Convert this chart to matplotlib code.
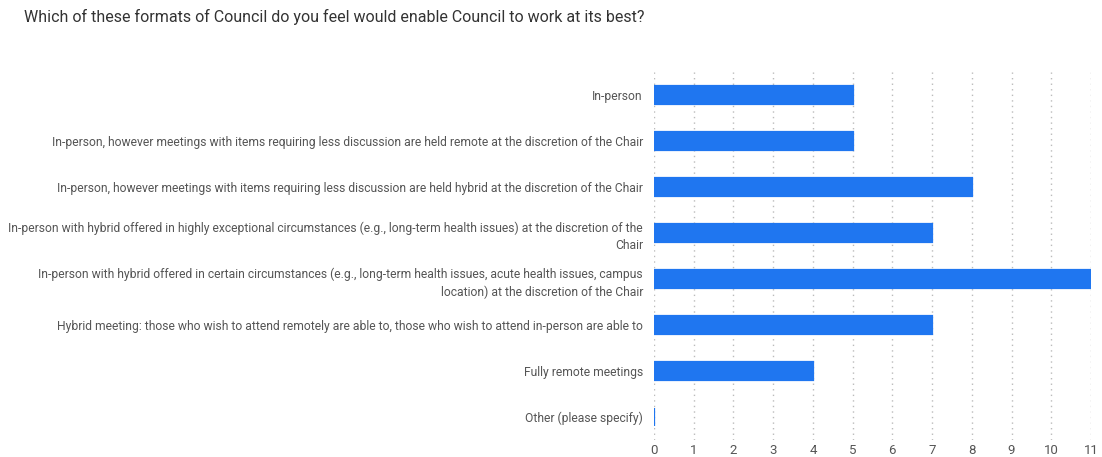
import matplotlib
matplotlib.use("Agg")
import matplotlib.pyplot as plt

categories = [
    "In-person",
    "In-person, however meetings with items requiring less discussion are held remote at the discretion of the Chair",
    "In-person, however meetings with items requiring less discussion are held hybrid at the discretion of the Chair",
    "In-person with hybrid offered in highly exceptional circumstances (e.g., long-term health issues) at the discretion of the\nChair",
    "In-person with hybrid offered in certain circumstances (e.g., long-term health issues, acute health issues, campus\nlocation) at the discretion of the Chair",
    "Hybrid meeting: those who wish to attend remotely are able to, those who wish to attend in-person are able to",
    "Fully remote meetings",
    "Other (please specify)",
]
values = [5, 5, 8, 7, 11, 7, 4, 0]
ticks = list(range(0, 12))

plt.rcParams['font.family'] = ['Roboto', 'DejaVu Sans']
fig = plt.figure(figsize=(11.02, 4.57), dpi=100)
ax = fig.add_axes([654/1102, 1-440/457, (1091-654)/1102, (440-72)/457])
y = list(range(len(categories)))
ax.barh(y, values, height=0.38, color="#1f76f0", edgecolor="#1f76f0", linewidth=1.6, zorder=3)
ax.set_ylim(len(categories)-0.5, -0.5)
ax.set_xlim(0, 11)
ax.set_yticks(y)
ax.set_yticklabels(categories, fontsize=8.75, color="#555555", ha="right", linespacing=1.45)
ax.set_xticks(ticks)
ax.set_xticklabels([str(t) for t in ticks], fontsize=9.5, color="#555555")
ax.tick_params(axis="both", length=0)
ax.tick_params(axis="y", pad=8)
ax.tick_params(axis="x", pad=3)
for s in ax.spines.values():
    s.set_visible(False)
ax.grid(axis="x", linestyle=(0, (1, 3)), color="#bbbbbb", linewidth=1, zorder=0)
ax.grid(axis="y", visible=False)
fig.text(24/1102, 1-17/457, "Which of these formats of Council do you feel would enable Council to work at its best?",
         fontsize=11.5, color="#333333", va="center", ha="left")
fig.savefig("out.png", dpi=100)
